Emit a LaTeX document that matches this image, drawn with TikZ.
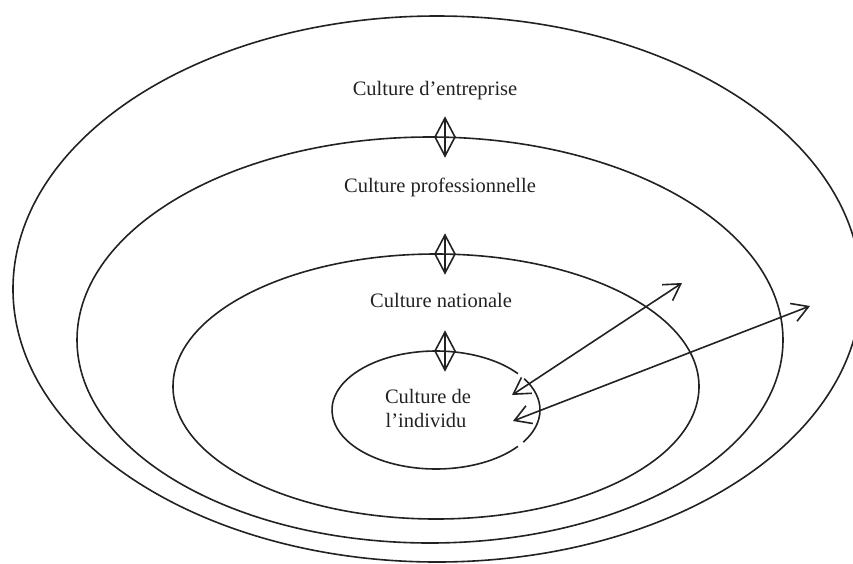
\documentclass[tikz,border=0pt]{standalone}
\usepackage{fontspec}
\setmainfont{Liberation Serif}
\usetikzlibrary{arrows.meta}
\definecolor{ink}{HTML}{222222}
\begin{document}
\begin{tikzpicture}[x=1pt,y=-1pt,
    ring/.style={draw=ink, line width=1.6pt},
    label/.style={text=ink, anchor=base, inner sep=0pt,
                  font=\fontsize{20.5}{24}\selectfont},
    twoway/.style={draw=ink, line width=1.6pt,
                   {Straight Barb[length=16pt,width=19pt]}-{Straight Barb[length=16pt,width=19pt]}},
    linkmark/.style={draw=ink, line width=1.6pt, line join=miter}]
  \useasboundingbox (0,0) rectangle (853,563);

  % nested culture levels
  \path[ring] (437,289) ellipse[x radius=424, y radius=273];
  \path[ring] (430,340) ellipse[x radius=353, y radius=203];
  \path[ring] (436,386.5) ellipse[x radius=263, y radius=132.5];
  % innermost level, left open where the two arrows meet it
  \path[ring] (436,410) ++(38:104 and 59)
        arc[start angle=38, end angle=322, x radius=104, y radius=59];
  \path[ring] (436,410) ++(-32:104 and 59)
        arc[start angle=-32, end angle=33, x radius=104, y radius=59];

  % level names
  \node[label] (entreprise) at (435,95) {Culture d’entreprise};
  \node[label] (profession) at (440,192) {Culture professionnelle};
  \node[label] (nation) at (441,307) {Culture nationale};
  \node[label] (indiv1) at (428,403) {Culture de};
  \node[label] (indiv2) at (426,427) {l’individu};

  % two-way links between adjacent levels
  \coordinate (m1) at (445,137);
  \coordinate (m2) at (445,254);
  \coordinate (m3) at (445,351);
  \foreach \m in {m1,m2,m3}{
    \draw[linkmark] (\m) ++(0,-19) -- ++(10,19) -- ++(-10,19) -- ++(-10,-19) -- cycle;
    \draw[linkmark] (\m) ++(0,-19) -- ++(0,38);
  }

  % direct links from the individual to the outer levels
  \coordinate (ia) at (512,395);
  \coordinate (ib) at (513,421);
  \coordinate (pa) at (682,283);
  \coordinate (ea) at (810,306);
  \draw[twoway] (ia) -- (pa);
  \draw[twoway] (ib) -- (ea);
\end{tikzpicture}
\end{document}
